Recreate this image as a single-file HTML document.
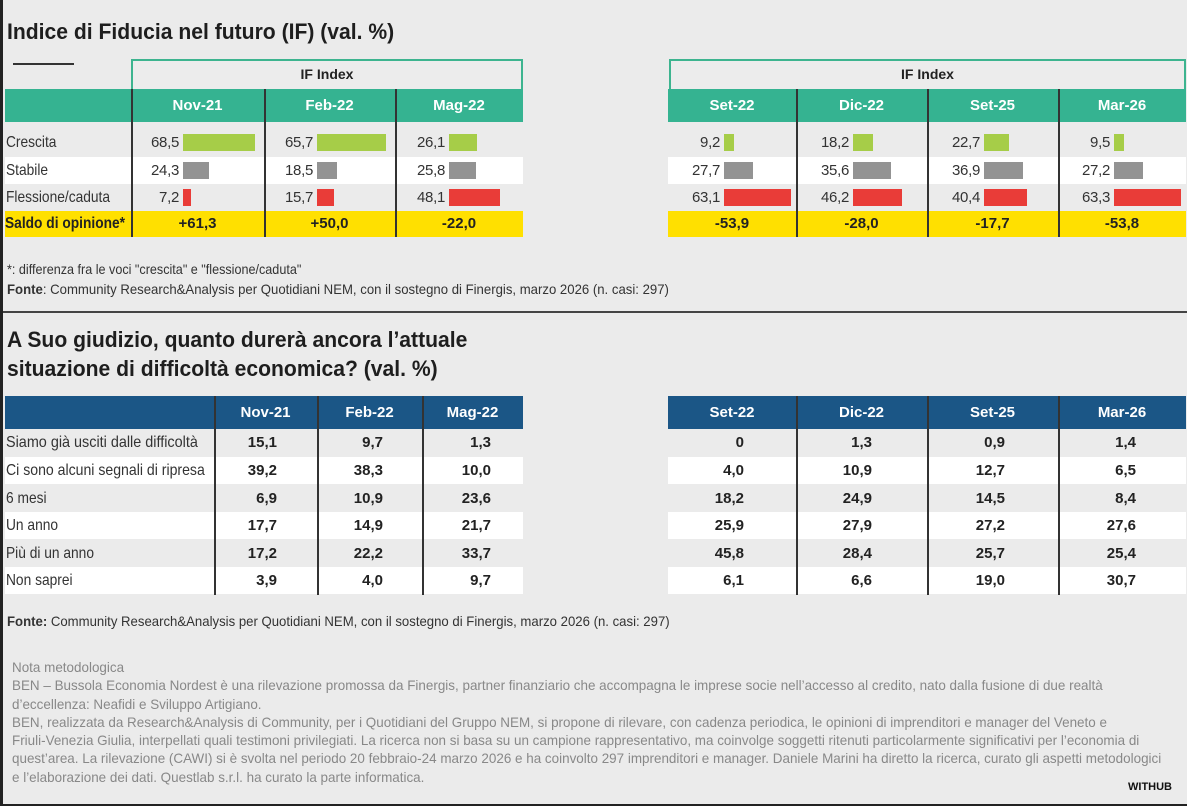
<!DOCTYPE html>
<html><head><meta charset="utf-8"><style>
*{margin:0;padding:0;box-sizing:border-box}
body{width:1187px;height:806px;background:#ebebeb;font-family:"Liberation Sans",sans-serif;color:#333;position:relative;overflow:hidden}
.a{position:absolute;white-space:nowrap}
.c{display:inline-block;white-space:nowrap;transform-origin:0 50%}
.frameL{left:0;top:0;width:3px;height:806px;background:#222}
.frameB{left:0;bottom:0;width:1187px;height:2px;background:#222}
h1{position:absolute;font-size:22px;font-weight:bold;color:#1e1e1e;line-height:29px;white-space:nowrap;transform:scaleX(.96);transform-origin:0 0}
.ifbox{position:absolute;top:59px;height:30px;border:2px solid #3db48f;border-bottom:none;background:#ececec;text-align:center;font-weight:bold;font-size:14px;line-height:27px;color:#222}
.thead{position:absolute;display:flex;color:#fff;font-weight:bold;font-size:15px;text-align:center}
.row{position:absolute;display:flex;font-size:15px;align-items:center;white-space:nowrap}
.row>div{position:relative;height:100%}
.lab{padding-left:1px;line-height:27px;font-size:16px}
.lab .c{transform:scaleX(.86)}
.n{position:absolute;left:0;text-align:right;top:0;line-height:27px;letter-spacing:-.3px}
.b{position:absolute;top:5px;height:17px}
.g{background:#a6cd48}.gr{background:#939393}.r{background:#e93c38}
.vl{position:absolute;width:1.5px;background:#333}
.sal{font-weight:bold;color:#222;text-align:center;line-height:26px}
.v{font-weight:bold;text-align:right;line-height:27px;color:#222}
.note{position:absolute;left:12px;font-size:14px;color:#888;line-height:18.3px}
.note div{white-space:nowrap;transform:scaleX(.96);transform-origin:0 0}
</style></head><body>
<div class="a frameL"></div><div class="a frameB"></div>
<h1 style="left:7px;top:17px">Indice di Fiducia nel futuro (IF) (val. %)</h1>
<div class="a" style="left:13px;top:63px;width:61px;height:1.5px;background:#333"></div>

<div class="ifbox" style="left:131px;width:392px">IF Index</div>
<div class="thead" style="left:5px;top:89px;width:518px;height:33px;background:#35b391;line-height:33px">
<div style="width:126px"></div><div style="width:133px">Nov-21</div><div style="width:131px">Feb-22</div><div style="width:128px">Mag-22</div></div>
<div class="row" style="left:5px;top:129px;height:28px;width:518px">
<div class="lab" style="width:126px"><span class="c">Crescita</span></div>
<div style="width:133px"><span class="n" style="width:48px">68,5</span><span class="b g" style="left:52px;width:72px"></span></div>
<div style="width:131px"><span class="n" style="width:49px">65,7</span><span class="b g" style="left:53px;width:69px"></span></div>
<div style="width:128px"><span class="n" style="width:50px">26,1</span><span class="b g" style="left:54px;width:28px"></span></div></div>
<div class="row" style="left:5px;top:157px;height:27px;width:518px;background:#fff">
<div class="lab" style="width:126px"><span class="c">Stabile</span></div>
<div style="width:133px"><span class="n" style="width:48px">24,3</span><span class="b gr" style="left:52px;width:26px"></span></div>
<div style="width:131px"><span class="n" style="width:49px">18,5</span><span class="b gr" style="left:53px;width:20px"></span></div>
<div style="width:128px"><span class="n" style="width:50px">25,8</span><span class="b gr" style="left:54px;width:27px"></span></div></div>
<div class="row" style="left:5px;top:184px;height:27px;width:518px">
<div class="lab" style="width:126px"><span class="c">Flessione/caduta</span></div>
<div style="width:133px"><span class="n" style="width:48px">7,2</span><span class="b r" style="left:52px;width:8px"></span></div>
<div style="width:131px"><span class="n" style="width:49px">15,7</span><span class="b r" style="left:53px;width:17px"></span></div>
<div style="width:128px"><span class="n" style="width:50px">48,1</span><span class="b r" style="left:54px;width:51px"></span></div></div>
<div class="row" style="left:5px;top:211px;height:26px;width:518px;background:#ffe000">
<div class="sal" style="width:126px;text-align:left;font-size:16px"><span class="c" style="transform:scaleX(.86)">Saldo di opinione*</span></div>
<div class="sal" style="width:133px">+61,3</div><div class="sal" style="width:131px">+50,0</div><div class="sal" style="width:128px">-22,0</div></div>
<div class="vl" style="left:131px;top:89px;height:148px"></div>
<div class="vl" style="left:264px;top:89px;height:148px"></div>
<div class="vl" style="left:395px;top:89px;height:148px"></div>

<div class="ifbox" style="left:669px;width:517px">IF Index</div>
<div class="thead" style="left:668px;top:89px;width:518px;height:33px;background:#35b391;line-height:33px">
<div style="width:128px">Set-22</div><div style="width:131px">Dic-22</div><div style="width:131px">Set-25</div><div style="width:128px">Mar-26</div></div>
<div class="row" style="left:668px;top:129px;height:28px;width:518px">
<div style="width:128px"><span class="n" style="width:52px">9,2</span><span class="b g" style="left:56px;width:10px"></span></div>
<div style="width:131px"><span class="n" style="width:53px">18,2</span><span class="b g" style="left:57px;width:20px"></span></div>
<div style="width:131px"><span class="n" style="width:53px">22,7</span><span class="b g" style="left:57px;width:25px"></span></div>
<div style="width:128px"><span class="n" style="width:52px">9,5</span><span class="b g" style="left:56px;width:10px"></span></div></div>
<div class="row" style="left:668px;top:157px;height:27px;width:518px;background:#fff">
<div style="width:128px"><span class="n" style="width:52px">27,7</span><span class="b gr" style="left:56px;width:29px"></span></div>
<div style="width:131px"><span class="n" style="width:53px">35,6</span><span class="b gr" style="left:57px;width:38px"></span></div>
<div style="width:131px"><span class="n" style="width:53px">36,9</span><span class="b gr" style="left:57px;width:39px"></span></div>
<div style="width:128px"><span class="n" style="width:52px">27,2</span><span class="b gr" style="left:56px;width:29px"></span></div></div>
<div class="row" style="left:668px;top:184px;height:27px;width:518px">
<div style="width:128px"><span class="n" style="width:52px">63,1</span><span class="b r" style="left:56px;width:67px"></span></div>
<div style="width:131px"><span class="n" style="width:53px">46,2</span><span class="b r" style="left:57px;width:49px"></span></div>
<div style="width:131px"><span class="n" style="width:53px">40,4</span><span class="b r" style="left:57px;width:43px"></span></div>
<div style="width:128px"><span class="n" style="width:52px">63,3</span><span class="b r" style="left:56px;width:67px"></span></div></div>
<div class="row" style="left:668px;top:211px;height:26px;width:518px;background:#ffe000">
<div class="sal" style="width:128px">-53,9</div><div class="sal" style="width:131px">-28,0</div><div class="sal" style="width:131px">-17,7</div><div class="sal" style="width:128px">-53,8</div></div>
<div class="vl" style="left:796px;top:89px;height:148px"></div>
<div class="vl" style="left:927px;top:89px;height:148px"></div>
<div class="vl" style="left:1058px;top:89px;height:148px"></div>

<div class="a" style="left:7px;top:261px;font-size:14px;color:#333"><span class="c" style="transform:scaleX(.9)">*: differenza fra le voci "crescita" e "flessione/caduta"</span></div>
<div class="a" style="left:7px;top:281px;font-size:14px;color:#333"><span class="c" style="transform:scaleX(.94)"><b>Fonte</b>: Community Research&amp;Analysis per Quotidiani NEM, con il sostegno di Finergis, marzo 2026 (n. casi: 297)</span></div>
<div class="a" style="left:3px;top:311px;width:1184px;height:1.5px;background:#444"></div>

<h1 style="left:7px;top:325px">A Suo giudizio, quanto durerà ancora l’attuale<br>situazione di difficoltà economica? (val. %)</h1>

<div class="thead" style="left:5px;top:396px;width:518px;height:33px;background:#1b5686;line-height:33px">
<div style="width:209px"></div><div style="width:103px">Nov-21</div><div style="width:105px">Feb-22</div><div style="width:101px">Mag-22</div></div>
<div class="a" style="left:5px;top:429px;width:518px;height:166px">
<div class="row" style="top:0;height:27px;width:518px"><div class="lab" style="width:209px"><span class="c" style="transform:scaleX(.9)">Siamo già usciti dalle difficoltà</span></div><div class="v" style="width:103px;padding-right:40px">15,1</div><div class="v" style="width:105px;padding-right:39px">9,7</div><div class="v" style="width:101px;padding-right:32px">1,3</div></div>
<div class="row" style="top:28px;height:27px;width:518px;background:#fff"><div class="lab" style="width:209px"><span class="c" style="transform:scaleX(.88)">Ci sono alcuni segnali di ripresa</span></div><div class="v" style="width:103px;padding-right:40px">39,2</div><div class="v" style="width:105px;padding-right:39px">38,3</div><div class="v" style="width:101px;padding-right:32px">10,0</div></div>
<div class="row" style="top:56px;height:27px;width:518px"><div class="lab" style="width:209px"><span class="c">6 mesi</span></div><div class="v" style="width:103px;padding-right:40px">6,9</div><div class="v" style="width:105px;padding-right:39px">10,9</div><div class="v" style="width:101px;padding-right:32px">23,6</div></div>
<div class="row" style="top:83px;height:27px;width:518px;background:#fff"><div class="lab" style="width:209px"><span class="c">Un anno</span></div><div class="v" style="width:103px;padding-right:40px">17,7</div><div class="v" style="width:105px;padding-right:39px">14,9</div><div class="v" style="width:101px;padding-right:32px">21,7</div></div>
<div class="row" style="top:111px;height:27px;width:518px"><div class="lab" style="width:209px"><span class="c">Più di un anno</span></div><div class="v" style="width:103px;padding-right:40px">17,2</div><div class="v" style="width:105px;padding-right:39px">22,2</div><div class="v" style="width:101px;padding-right:32px">33,7</div></div>
<div class="row" style="top:138px;height:27px;width:518px;background:#fff"><div class="lab" style="width:209px"><span class="c">Non saprei</span></div><div class="v" style="width:103px;padding-right:40px">3,9</div><div class="v" style="width:105px;padding-right:39px">4,0</div><div class="v" style="width:101px;padding-right:32px">9,7</div></div>
</div>
<div class="vl" style="left:214px;top:396px;height:199px"></div>
<div class="vl" style="left:317px;top:396px;height:199px"></div>
<div class="vl" style="left:422px;top:396px;height:199px"></div>

<div class="thead" style="left:668px;top:396px;width:518px;height:33px;background:#1b5686;line-height:33px">
<div style="width:128px">Set-22</div><div style="width:131px">Dic-22</div><div style="width:131px">Set-25</div><div style="width:128px">Mar-26</div></div>
<div class="a" style="left:668px;top:429px;width:518px;height:166px">
<div class="row" style="top:0;height:27px;width:518px"><div class="v" style="width:128px;padding-right:52px">0</div><div class="v" style="width:131px;padding-right:55px">1,3</div><div class="v" style="width:131px;padding-right:53px">0,9</div><div class="v" style="width:128px;padding-right:50px">1,4</div></div>
<div class="row" style="top:28px;height:27px;width:518px;background:#fff"><div class="v" style="width:128px;padding-right:52px">4,0</div><div class="v" style="width:131px;padding-right:55px">10,9</div><div class="v" style="width:131px;padding-right:53px">12,7</div><div class="v" style="width:128px;padding-right:50px">6,5</div></div>
<div class="row" style="top:56px;height:27px;width:518px"><div class="v" style="width:128px;padding-right:52px">18,2</div><div class="v" style="width:131px;padding-right:55px">24,9</div><div class="v" style="width:131px;padding-right:53px">14,5</div><div class="v" style="width:128px;padding-right:50px">8,4</div></div>
<div class="row" style="top:83px;height:27px;width:518px;background:#fff"><div class="v" style="width:128px;padding-right:52px">25,9</div><div class="v" style="width:131px;padding-right:55px">27,9</div><div class="v" style="width:131px;padding-right:53px">27,2</div><div class="v" style="width:128px;padding-right:50px">27,6</div></div>
<div class="row" style="top:111px;height:27px;width:518px"><div class="v" style="width:128px;padding-right:52px">45,8</div><div class="v" style="width:131px;padding-right:55px">28,4</div><div class="v" style="width:131px;padding-right:53px">25,7</div><div class="v" style="width:128px;padding-right:50px">25,4</div></div>
<div class="row" style="top:138px;height:27px;width:518px;background:#fff"><div class="v" style="width:128px;padding-right:52px">6,1</div><div class="v" style="width:131px;padding-right:55px">6,6</div><div class="v" style="width:131px;padding-right:53px">19,0</div><div class="v" style="width:128px;padding-right:50px">30,7</div></div>
</div>
<div class="vl" style="left:796px;top:396px;height:199px"></div>
<div class="vl" style="left:927px;top:396px;height:199px"></div>
<div class="vl" style="left:1058px;top:396px;height:199px"></div>

<div class="a" style="left:7px;top:613px;font-size:14px;color:#333"><span class="c" style="transform:scaleX(.94)"><b>Fonte:</b> Community Research&amp;Analysis per Quotidiani NEM, con il sostegno di Finergis, marzo 2026 (n. casi: 297)</span></div>

<div class="note" style="top:658px">
<div>Nota metodologica</div>
<div>BEN – Bussola Economia Nordest è una rilevazione promossa da Finergis, partner finanziario che accompagna le imprese socie nell’accesso al credito, nato dalla fusione di due realtà</div>
<div>d’eccellenza: Neafidi e Sviluppo Artigiano.</div>
<div>BEN, realizzata da Research&amp;Analysis di Community, per i Quotidiani del Gruppo NEM, si propone di rilevare, con cadenza periodica, le opinioni di imprenditori e manager del Veneto e</div>
<div>Friuli-Venezia Giulia, interpellati quali testimoni privilegiati. La ricerca non si basa su un campione rappresentativo, ma coinvolge soggetti ritenuti particolarmente significativi per l’economia di</div>
<div>quest’area. La rilevazione (CAWI) si è svolta nel periodo 20 febbraio-24 marzo 2026 e ha coinvolto 297 imprenditori e manager. Daniele Marini ha diretto la ricerca, curato gli aspetti metodologici</div>
<div>e l’elaborazione dei dati. Questlab s.r.l. ha curato la parte informatica.</div>
</div>
<div class="a" style="left:1128px;top:781px;font-weight:bold;font-size:11px;color:#111">WITHUB</div>
</body></html>
